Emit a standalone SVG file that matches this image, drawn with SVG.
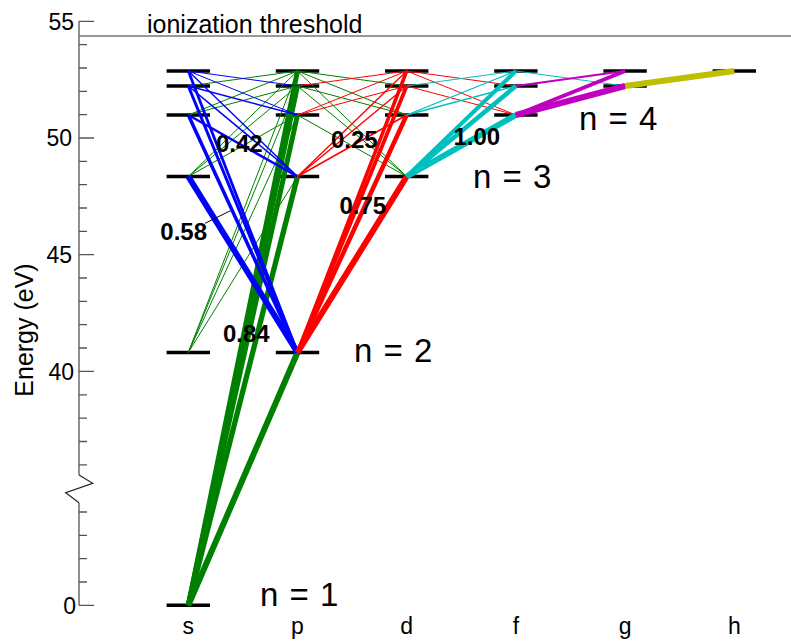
<svg xmlns="http://www.w3.org/2000/svg" width="791" height="642" viewBox="0 0 791 642">
<style>
.bg{fill:#fff}
.axis{stroke:#555;stroke-width:1.3;fill:none}
.brk{stroke:#222;stroke-width:1.2;fill:none}
.thr{stroke:#777;stroke-width:1.3}
.bar{stroke:#000;stroke-width:3.5}
.tl{font-family:"Liberation Sans",Arial,sans-serif;font-size:23px;fill:#000}
.yl{font-family:"Liberation Sans",Arial,sans-serif;font-size:25px;fill:#000}
.cl{font-family:"Liberation Sans",Arial,sans-serif;font-size:23px;fill:#000;text-anchor:middle}
.br{font-family:"Liberation Sans",Arial,sans-serif;font-size:24px;font-weight:bold;fill:#000}
.nl{font-family:"Liberation Sans",Arial,sans-serif;font-size:33px;fill:#000;word-spacing:2px}
.g{stroke:#008000;fill:none}
.b{stroke:#0000ff;fill:none}
.r{stroke:#ff0000;fill:none}
.c{stroke:#00bfbf;fill:none}
.m{stroke:#bf00bf;fill:none}
.y{stroke:#bfbf00;fill:none}
.lead{stroke:#000;stroke-width:1}
</style>
<rect class="bg" x="0" y="0" width="791" height="642"/>

<g id="axis">
  <path class="axis" d="M79,21.3 V475 M79,502.7 V605.3"/>
  <path class="brk" d="M79,475 L92.7,483.3 L65.7,492.7 L79,502.7"/>
  <path class="axis" d="M79,21.3 H94 M79,138 H94 M79,254.7 H94 M79,371.4 H94 M79,605.3 H94
    M79,44.6 H87 M79,68 H87 M79,91.3 H87 M79,114.7 H87
    M79,161.4 H87 M79,184.7 H87 M79,208 H87 M79,231.4 H87
    M79,278 H87 M79,301.4 H87 M79,324.7 H87 M79,348 H87
    M79,394.8 H87 M79,418.2 H87 M79,441.5 H87 M79,464.9 H87
    M79,512 H87 M79,535.3 H87 M79,558.7 H87 M79,582 H87"/>
  <text class="tl" x="74" y="29.5" text-anchor="end">55</text>
  <text class="tl" x="72" y="146.2" text-anchor="end">50</text>
  <text class="tl" x="72" y="262.9" text-anchor="end">45</text>
  <text class="tl" x="74" y="379.6" text-anchor="end">40</text>
  <text class="tl" x="76" y="613.5" text-anchor="end">0</text>
  <text class="yl" transform="translate(33,330) rotate(-90)" text-anchor="middle">Energy (eV)</text>
</g>

<g id="threshold">
  <line class="thr" x1="79" y1="36" x2="791" y2="36"/>
  <text class="yl" x="147" y="33">ionization threshold</text>
</g>

<g id="levels">
  <g id="s-levels">
    <line id="1s" class="bar" x1="166.6" y1="605.3" x2="210" y2="605.3"/>
    <line id="2s" class="bar" x1="166.6" y1="352.5" x2="210" y2="352.5"/>
    <line id="3s" class="bar" x1="166.6" y1="176.5" x2="210" y2="176.5"/>
    <line id="4s" class="bar" x1="166.6" y1="115" x2="210" y2="115"/>
    <line id="5s" class="bar" x1="166.6" y1="86" x2="210" y2="86"/>
    <line id="6s" class="bar" x1="166.6" y1="71" x2="210" y2="71"/>
  </g>
  <g id="p-levels">
    <line id="2p" class="bar" x1="275.8" y1="352.5" x2="319.2" y2="352.5"/>
    <line id="3p" class="bar" x1="275.8" y1="176.5" x2="319.2" y2="176.5"/>
    <line id="4p" class="bar" x1="275.8" y1="115" x2="319.2" y2="115"/>
    <line id="5p" class="bar" x1="275.8" y1="86" x2="319.2" y2="86"/>
    <line id="6p" class="bar" x1="275.8" y1="71" x2="319.2" y2="71"/>
  </g>
  <g id="d-levels">
    <line id="3d" class="bar" x1="385" y1="176.5" x2="428.4" y2="176.5"/>
    <line id="4d" class="bar" x1="385" y1="115" x2="428.4" y2="115"/>
    <line id="5d" class="bar" x1="385" y1="86" x2="428.4" y2="86"/>
    <line id="6d" class="bar" x1="385" y1="71" x2="428.4" y2="71"/>
  </g>
  <g id="f-levels">
    <line id="4f" class="bar" x1="494.2" y1="115" x2="537.6" y2="115"/>
    <line id="5f" class="bar" x1="494.2" y1="86" x2="537.6" y2="86"/>
    <line id="6f" class="bar" x1="494.2" y1="71" x2="537.6" y2="71"/>
  </g>
  <g id="g-levels">
    <line id="5g" class="bar" x1="603.4" y1="86" x2="646.8" y2="86"/>
    <line id="6g" class="bar" x1="603.4" y1="71" x2="646.8" y2="71"/>
  </g>
  <g id="h-levels">
    <line id="6h" class="bar" x1="712.6" y1="71" x2="756" y2="71"/>
  </g>
</g>

<g id="connectors">
  <!-- upper p to lower s (green) -->
  <line class="g" stroke-width="6" x1="188.3" y1="605.3" x2="297.5" y2="352.5"/>
  <line class="g" stroke-width="5.3" x1="188.3" y1="605.3" x2="297.5" y2="176.5"/>
  <line class="g" stroke-width="5" x1="188.3" y1="605.3" x2="297.5" y2="115"/>
  <line class="g" stroke-width="4.9" x1="188.3" y1="605.3" x2="297.5" y2="86"/>
  <line class="g" stroke-width="4.9" x1="188.3" y1="605.3" x2="297.5" y2="71"/>
  <line class="g" stroke-width="1" x1="188.3" y1="352.5" x2="297.5" y2="176.5"/>
  <line class="g" stroke-width="1" x1="188.3" y1="352.5" x2="297.5" y2="115"/>
  <line class="g" stroke-width="1" x1="188.3" y1="352.5" x2="297.5" y2="86"/>
  <line class="g" stroke-width="1" x1="188.3" y1="352.5" x2="297.5" y2="71"/>
  <line class="g" stroke-width="1" x1="188.3" y1="176.5" x2="297.5" y2="115"/>
  <line class="g" stroke-width="1" x1="188.3" y1="176.5" x2="297.5" y2="86"/>
  <line class="g" stroke-width="1" x1="188.3" y1="176.5" x2="297.5" y2="71"/>
  <line class="g" stroke-width="1" x1="188.3" y1="115" x2="297.5" y2="86"/>
  <line class="g" stroke-width="1" x1="188.3" y1="115" x2="297.5" y2="71"/>
  <line class="g" stroke-width="1" x1="188.3" y1="86" x2="297.5" y2="71"/>
  <!-- upper p to lower d (green) -->
  <line class="g" stroke-width="1" x1="406.7" y1="176.5" x2="297.5" y2="115"/>
  <line class="g" stroke-width="1" x1="406.7" y1="176.5" x2="297.5" y2="86"/>
  <line class="g" stroke-width="1" x1="406.7" y1="176.5" x2="297.5" y2="71"/>
  <line class="g" stroke-width="1" x1="406.7" y1="115" x2="297.5" y2="86"/>
  <line class="g" stroke-width="1" x1="406.7" y1="115" x2="297.5" y2="71"/>
  <line class="g" stroke-width="1" x1="406.7" y1="86" x2="297.5" y2="71"/>
  <!-- upper s to lower p (blue) -->
  <line class="b" stroke-width="6" x1="188.3" y1="176.5" x2="297.5" y2="352.5"/>
  <line class="b" stroke-width="3.5" x1="188.3" y1="115" x2="297.5" y2="352.5"/>
  <line class="b" stroke-width="2.5" x1="188.3" y1="115" x2="297.5" y2="176.5"/>
  <line class="b" stroke-width="3" x1="188.3" y1="86" x2="297.5" y2="352.5"/>
  <line class="b" stroke-width="1.6" x1="188.3" y1="86" x2="297.5" y2="176.5"/>
  <line class="b" stroke-width="1.4" x1="188.3" y1="86" x2="297.5" y2="115"/>
  <line class="b" stroke-width="2.8" x1="188.3" y1="71" x2="297.5" y2="352.5"/>
  <line class="b" stroke-width="1.4" x1="188.3" y1="71" x2="297.5" y2="176.5"/>
  <line class="b" stroke-width="1" x1="188.3" y1="71" x2="297.5" y2="115"/>
  <line class="b" stroke-width="1" x1="188.3" y1="71" x2="297.5" y2="86"/>
  <!-- upper d to lower p (red) -->
  <line class="r" stroke-width="6" x1="406.7" y1="176.5" x2="297.5" y2="352.5"/>
  <line class="r" stroke-width="4.5" x1="406.7" y1="115" x2="297.5" y2="352.5"/>
  <line class="r" stroke-width="1.5" x1="406.7" y1="115" x2="297.5" y2="176.5"/>
  <line class="r" stroke-width="3.8" x1="406.7" y1="86" x2="297.5" y2="352.5"/>
  <line class="r" stroke-width="1.4" x1="406.7" y1="86" x2="297.5" y2="176.5"/>
  <line class="r" stroke-width="1" x1="406.7" y1="86" x2="297.5" y2="115"/>
  <line class="r" stroke-width="3.5" x1="406.7" y1="71" x2="297.5" y2="352.5"/>
  <line class="r" stroke-width="1.4" x1="406.7" y1="71" x2="297.5" y2="176.5"/>
  <line class="r" stroke-width="1" x1="406.7" y1="71" x2="297.5" y2="115"/>
  <line class="r" stroke-width="1" x1="406.7" y1="71" x2="297.5" y2="86"/>
  <!-- upper d to lower f (red) -->
  <line class="r" stroke-width="1" x1="406.7" y1="86" x2="515.9" y2="115"/>
  <line class="r" stroke-width="1" x1="406.7" y1="71" x2="515.9" y2="115"/>
  <line class="r" stroke-width="1" x1="406.7" y1="71" x2="515.9" y2="86"/>
  <!-- upper f to lower d (cyan) -->
  <line class="c" stroke-width="6" x1="515.9" y1="115" x2="406.7" y2="176.5"/>
  <line class="c" stroke-width="4.6" x1="515.9" y1="86" x2="406.7" y2="176.5"/>
  <line class="c" stroke-width="1.4" x1="515.9" y1="86" x2="406.7" y2="115"/>
  <line class="c" stroke-width="4.1" x1="515.9" y1="71" x2="406.7" y2="176.5"/>
  <line class="c" stroke-width="1.3" x1="515.9" y1="71" x2="406.7" y2="115"/>
  <line class="c" stroke-width="1" x1="515.9" y1="71" x2="406.7" y2="86"/>
  <!-- upper f to lower g (cyan) -->
  <line class="c" stroke-width="1" x1="515.9" y1="71" x2="625.1" y2="86"/>
  <!-- upper g to lower f (magenta) -->
  <line class="m" stroke-width="6" x1="625.1" y1="86" x2="515.9" y2="115"/>
  <line class="m" stroke-width="4" x1="625.1" y1="71" x2="515.9" y2="115"/>
  <line class="m" stroke-width="2" x1="625.1" y1="71" x2="515.9" y2="86"/>
  <!-- upper h to lower g (yellow) -->
  <line class="y" stroke-width="6" x1="734.3" y1="71" x2="625.1" y2="86"/>
  <!-- leader for 0.58 -->
  <line class="lead" x1="205" y1="223.3" x2="230.5" y2="210.7"/>
</g>

<g id="ratios">
  <text class="br" x="207" y="240" text-anchor="end">0.58</text>
  <text class="br" x="216" y="151.5">0.42</text>
  <text class="br" x="223" y="341.5">0.84</text>
  <text class="br" x="331" y="148.3">0.25</text>
  <text class="br" x="339.5" y="214">0.75</text>
  <text class="br" x="453.5" y="145">1.00</text>
</g>

<g id="shell-labels">
  <text class="nl" x="260" y="606">n = 1</text>
  <text class="nl" x="354" y="361.7">n = 2</text>
  <text class="nl" x="473" y="188.3">n = 3</text>
  <text class="nl" x="579" y="130">n = 4</text>
</g>

<g id="column-labels">
  <text class="cl" x="188.3" y="634">s</text>
  <text class="cl" x="297.5" y="634">p</text>
  <text class="cl" x="406.7" y="634">d</text>
  <text class="cl" x="515.9" y="634">f</text>
  <text class="cl" x="625.1" y="634">g</text>
  <text class="cl" x="734.3" y="634">h</text>
</g>
</svg>
